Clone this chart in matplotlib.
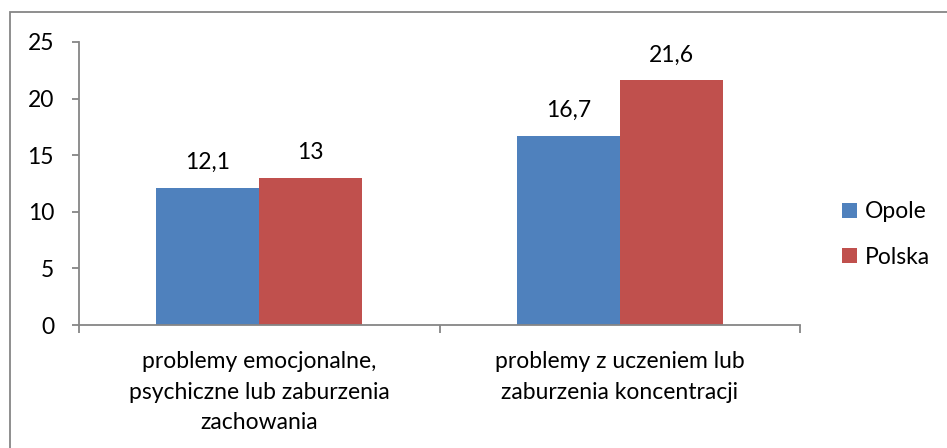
import matplotlib
matplotlib.use("Agg")
import matplotlib.pyplot as plt
import numpy as np
from matplotlib.patches import Rectangle

categories = ["problemy emocjonalne,\npsychiczne lub zaburzenia\nzachowania",
              "problemy z uczeniem lub\nzaburzenia koncentracji"]
series_names = ["Opole", "Polska"]
opole = [12.1, 16.7]
polska = [13, 21.6]
value_labels_opole = ["12,1", "16,7"]
value_labels_polska = ["13", "21,6"]
yticks = [0, 5, 10, 15, 20, 25]

plt.rcParams['font.family'] = ['Lato', 'DejaVu Sans']
FS = 16.5
axis_col = "#868686"

fig = plt.figure(figsize=(9.47, 4.48), dpi=100)
ax = fig.add_axes([79/947, 1-325/448, (800-79)/947, (325-42)/448])

x = np.arange(len(categories))
w = 0.2857
b1 = ax.bar(x - w/2, opole, w, color="#4F81BD", label=series_names[0])
b2 = ax.bar(x + w/2, polska, w, color="#C0504D", label=series_names[1])

for rect, lab in zip(b1, value_labels_opole):
    ax.annotate(lab, (rect.get_x() + rect.get_width()/2, rect.get_height()),
                xytext=(0, 13.5), textcoords="offset points", ha="center", va="baseline", fontsize=FS)
for rect, lab in zip(b2, value_labels_polska):
    ax.annotate(lab, (rect.get_x() + rect.get_width()/2, rect.get_height()),
                xytext=(0, 13.5), textcoords="offset points", ha="center", va="baseline", fontsize=FS)

ax.set_xlim(-0.5, len(categories) - 0.5)
ax.set_ylim(0, 25)
ax.set_yticks(yticks)
ax.set_yticklabels([str(t) for t in yticks], fontsize=FS)
ax.tick_params(axis="y", direction="out", length=5, width=1.3, color=axis_col, pad=13)

ax.set_xticks(x)
ax.set_xticklabels(categories, fontsize=FS, linespacing=1.55)
ax.set_xticks(np.arange(-0.5, len(categories), 1.0), minor=True)
ax.tick_params(axis="x", which="major", length=0, pad=19)
ax.tick_params(axis="x", which="minor", direction="out", length=6, width=1.3, color=axis_col)

for s in ["top", "right"]:
    ax.spines[s].set_visible(False)
for s in ["left", "bottom"]:
    ax.spines[s].set_color(axis_col)
    ax.spines[s].set_linewidth(1.3)

leg = ax.legend(loc="center left", bbox_to_anchor=(842/947, 1-234.5/448), bbox_transform=fig.transFigure,
                frameon=False, fontsize=FS, handlelength=0.66, handleheight=0.66,
                handletextpad=0.32, labelspacing=1.05, borderpad=0, borderaxespad=0)

fig.patches.append(Rectangle((10/947, -0.05), 1.1, 1 - 12/448 + 0.05, transform=fig.transFigure,
                             fill=False, edgecolor=axis_col, linewidth=1.3))

fig.savefig("out.png", dpi=100)
